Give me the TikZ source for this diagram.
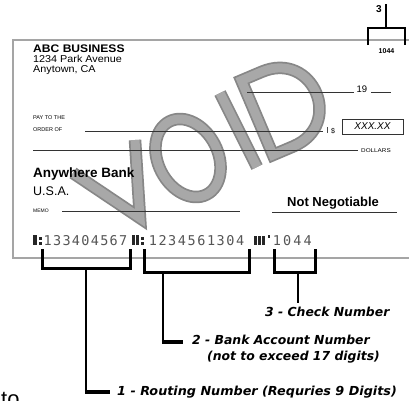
\documentclass[tikz,border=0pt]{standalone}
\usepackage{fontspec}
\setmainfont{Liberation Sans}
\newfontfamily\labelfont{DejaVu Sans}
\newfontfamily\micrfont{DejaVu Sans Mono}
\definecolor{voidedge}{RGB}{135,135,135}
\definecolor{voidfill}{RGB}{168,168,168}
\definecolor{micrgray}{RGB}{85,85,85}
\definecolor{edgegray}{RGB}{165,165,165}
\tikzset{
  txt/.style={inner sep=0pt, anchor=base west},
  chkedge/.style={draw=edgegray, line width=1.2pt},
  rule/.style={draw=black!80, line width=0.7pt},
  brk/.style={draw=black, line width=3pt},
  stemline/.style={draw=black, line width=2.5pt},
  stub/.style={draw=black, line width=4pt},
  topbrk/.style={draw=black, line width=1.8pt},
  lbl/.style={inner sep=0pt, anchor=west, font=\labelfont\bfseries\itshape\fontsize{12.4}{14}\selectfont},
  digit/.style={inner sep=0pt, anchor=base, text=micrgray, font=\micrfont\fontsize{13.5}{14}\selectfont},
  micrbar/.style={fill=black!85, draw=none},
  voidout/.style={draw=voidedge, line width=12.5pt, line join=miter},
  voidin/.style={draw=voidfill, line width=9pt, line join=miter}
}
\begin{document}
\begin{tikzpicture}[x=1pt,y=-1pt]
\useasboundingbox (0,0) rectangle (409,400);
\fill[white] (0,0) rectangle (409,400);
\begin{scope}
\clip (0,0) rectangle (409,400);
% VOID watermark, drawn as strokes
\coordinate (va) at (73,173);
\coordinate (vb) at (140,218);
\coordinate (vc) at (135,140);
\coordinate (oc) at (188,158);
\coordinate (ia) at (257,167);
\coordinate (ib) at (220,93);
\foreach \s in {voidout,voidin}{
  \draw[\s] (va) -- (vb) -- (vc);
  \draw[\s] (oc) ellipse [x radius=30, y radius=41, rotate=27];
  \draw[\s] (ia) -- (ib);
  \begin{scope}[shift={(273,155)}, rotate=23]
    \draw[\s] (0,0) -- (0,-81) -- (22,-81) .. controls (78,-81) and (78,0) .. (22,0) -- cycle;
  \end{scope}
}
% check outline
\coordinate (tl) at (13,40);
\coordinate (tr) at (409,40);
\coordinate (bl) at (13,258);
\coordinate (br) at (409,258);
\draw[chkedge] (tr) -- (tl) -- (bl) -- (br);
% header texts
\node[txt, font=\bfseries\fontsize{11}{12}\selectfont] (biz) at (33,52) {\scalebox{1.1}[1]{ABC BUSINESS}};
\node[txt, font=\fontsize{10}{11}\selectfont] (addr1) at (33,62) {\scalebox{1.08}[1]{1234 Park Avenue}};
\node[txt, font=\fontsize{10}{11}\selectfont] (addr2) at (33,72) {\scalebox{1.08}[1]{Anytown, CA}};
% date line
\coordinate (d1) at (247,92);
\coordinate (d2) at (354,92);
\draw[rule] (d1) -- (d2);
\node[txt, font=\fontsize{9.5}{10}\selectfont] (yr) at (356.5,92) {19};
\coordinate (d3) at (371,92);
\coordinate (d4) at (391,92);
\draw[rule] (d3) -- (d4);
% pay to
\node[txt, font=\fontsize{5.5}{6}\selectfont] (pay1) at (33,119) {PAY TO THE};
\node[txt, font=\fontsize{5.5}{6}\selectfont] (pay2) at (33,131) {ORDER OF};
\coordinate (p1) at (85,131);
\coordinate (p2) at (323,131);
\draw[rule] (p1) -- (p2);
\coordinate (t1) at (327,127);
\coordinate (t2) at (327,133);
\draw[draw=black!70, line width=0.5pt] (t1) -- (t2);
\node[txt, font=\fontsize{7}{8}\selectfont] (dol) at (331,133) {\$};
\node[draw=black!80, line width=0.8pt, minimum width=61pt, minimum height=15pt, inner sep=0pt,
      font=\itshape\fontsize{10}{11}\selectfont] (amt) at (372.5,126.5) {XXX.XX};
% dollars line
\coordinate (l1) at (33,150);
\coordinate (l2) at (358,150);
\draw[rule] (l1) -- (l2);
\node[txt, font=\fontsize{5.5}{6}\selectfont] (dollars) at (361,152) {\scalebox{1.15}[1]{DOLLARS}};
% bank
\node[txt, font=\bfseries\fontsize{13.5}{14}\selectfont] (bank) at (33,177) {Anywhere Bank};
\node[txt, font=\fontsize{12.5}{13}\selectfont] (usa) at (33,195) {U.S.A.};
\node[txt, font=\fontsize{5}{6}\selectfont] (memo) at (33,212) {MEMO};
\coordinate (m1) at (62,211);
\coordinate (m2) at (240,211);
\draw[rule] (m1) -- (m2);
\node[txt, font=\bfseries\fontsize{13}{14}\selectfont] (neg) at (287,206) {Not Negotiable};
\coordinate (n1) at (272,212);
\coordinate (n2) at (397,212);
\draw[rule] (n1) -- (n2);
% MICR line
\fill[micrbar] (33,235) rectangle (37,245);
\fill[micrbar] (38.5,236.5) rectangle (41.5,239.5);
\fill[micrbar] (38.5,241.5) rectangle (41.5,244.5);
\foreach \c [count=\i from 0] in {1,3,3,4,0,4,5,6,7}
  \node[digit] (ra\i) at ({47.7+9.44*\i},245) {\c};
\fill[micrbar] (132,235) rectangle (135,245);
\fill[micrbar] (135.5,235) rectangle (139,245);
\fill[micrbar] (140.5,236.5) rectangle (143.5,239.5);
\fill[micrbar] (140.5,241.5) rectangle (143.5,244.5);
\foreach \c [count=\i from 0] in {1,2,3,4,5,6,1,3,0,4}
  \node[digit] (ac\i) at ({152.9+9.7*\i},245) {\c};
\fill[micrbar] (254,236) rectangle (256.5,245);
\fill[micrbar] (258,236) rectangle (260.5,245);
\fill[micrbar] (262,236) rectangle (264.5,245);
\fill[micrbar] (268,235) rectangle (270,238);
\foreach \c [count=\i from 0] in {1,0,4,4}
  \node[digit] (cn\i) at ({277+10.25*\i},245) {\c};
% top-right bracket
\node[inner sep=0pt, font=\bfseries\fontsize{10}{11}\selectfont] (three) at (379,9) {3};
\coordinate (tb0) at (386,4);
\coordinate (tb1) at (386,28);
\coordinate (tbl) at (368,45);
\coordinate (tbr) at (405,45);
\draw[topbrk] (tb0) -- (tb1);
\draw[topbrk] (tbl) |- (tb1) -| (tbr);
\node[inner sep=0pt, font=\bfseries\fontsize{7}{8}\selectfont] (num) at (386.5,51) {1044};
% bottom brackets
\coordinate (b1l) at (42,249);
\coordinate (b1m) at (86,268);
\coordinate (b1r) at (130,249);
\draw[brk] (b1l) |- (b1m) -| (b1r);
\coordinate (b2l) at (144,249);
\coordinate (b2m) at (163,272);
\coordinate (b2r) at (249,249);
\draw[brk] (b2l) |- (b2m) -| (b2r);
\coordinate (b3l) at (274,249);
\coordinate (b3m) at (298,272);
\coordinate (b3r) at (315,249);
\draw[brk] (b3l) |- (b3m) -| (b3r);
% labels
\node[lbl] (lab3) at (265,312) {3 - Check Number};
\node[lbl] (lab2) at (192,340) {2 - Bank Account Number};
\node[lbl] (lab2b) at (207,357) {(not to exceed 17 digits)};
\node[lbl] (lab1) at (117,392) {\scalebox{1.03}[1]{1 - Routing Number (Requries 9 Digits)}};
% stems
\coordinate (c1) at (86,392);
\coordinate (e1) at (110,392);
\draw[stemline] (b1m) -- (c1);
\draw[stub] ([xshift=-1.25pt]c1) -- (e1);
\coordinate (c2) at (163,342);
\coordinate (e2) at (183,342);
\draw[stemline] (b2m) -- (c2);
\draw[stub] ([xshift=-1.25pt]c2) -- (e2);
\coordinate (e3) at (298,303);
\draw[stemline] (b3m) -- (e3);
% cut-off word at bottom left
\node[txt, font=\fontsize{22}{22}\selectfont] (cut) at (1,406) {to};
\end{scope}
\end{tikzpicture}
\end{document}
